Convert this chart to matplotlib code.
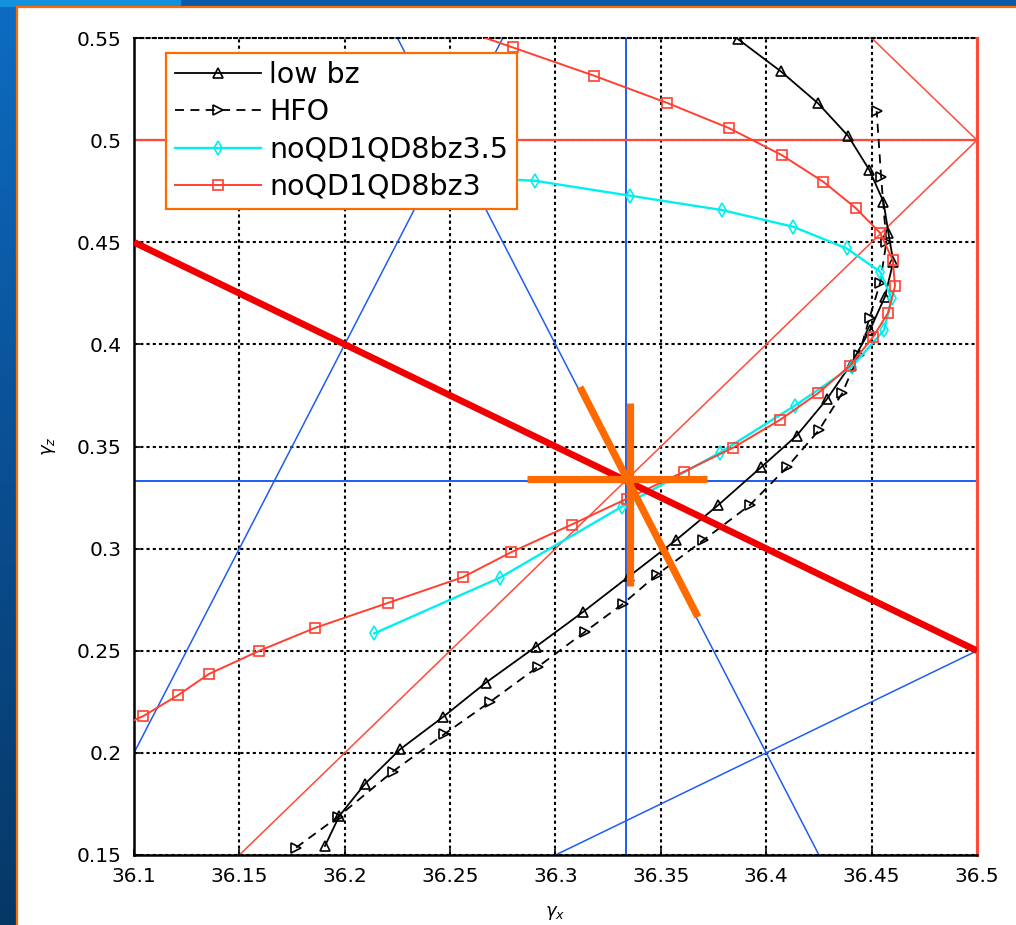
import numpy as np
import matplotlib
matplotlib.use("Agg")
import matplotlib.pyplot as plt
from matplotlib.colors import LinearSegmentedColormap
from matplotlib.patches import Rectangle
from matplotlib.lines import Line2D

plt.rcParams['font.family'] = ['DejaVu Sans']

# Measured trajectories (gamma_x, gamma_z)
low_bz_x = [36.1906, 36.1974, 36.2096, 36.2262, 36.2468, 36.2670, 36.2907, 36.3132,
            36.3350, 36.3572, 36.3773, 36.3975, 36.4144, 36.4287, 36.4400, 36.4492,
            36.4563, 36.4603, 36.4580, 36.4556, 36.4489, 36.4389, 36.4246, 36.4070, 36.3864]
low_bz_y = [0.1544, 0.1691, 0.1848, 0.2017, 0.2177, 0.2344, 0.2520, 0.2691,
            0.2865, 0.3042, 0.3214, 0.3398, 0.3553, 0.3731, 0.3900, 0.4070,
            0.4233, 0.4405, 0.4544, 0.4699, 0.4854, 0.5020, 0.5180, 0.5336, 0.5496]

hfo_x = [36.1769, 36.1968, 36.2227, 36.2470, 36.2690, 36.2915, 36.3140, 36.3320,
         36.3480, 36.3700, 36.3923, 36.4100, 36.4250, 36.4360, 36.4440, 36.4490,
         36.4540, 36.4570, 36.4545, 36.4524]
hfo_y = [0.1536, 0.1687, 0.1908, 0.2090, 0.2250, 0.2420, 0.2593, 0.2730,
         0.2871, 0.3040, 0.3214, 0.3400, 0.3580, 0.3760, 0.3950, 0.4130,
         0.4300, 0.4500, 0.4820, 0.5142]

bz35_x = [36.2140, 36.2737, 36.3314, 36.3780, 36.4136, 36.4405, 36.4559, 36.4595,
          36.4540, 36.4381, 36.4128, 36.3788, 36.3353, 36.2903, 36.2450]
bz35_y = [0.2585, 0.2858, 0.3205, 0.3470, 0.3700, 0.3890, 0.4070, 0.4225,
          0.4356, 0.4470, 0.4576, 0.4658, 0.4728, 0.4801, 0.4825]

bz3_x = [36.0880, 36.1044, 36.1210, 36.1355, 36.1595, 36.1859, 36.2207, 36.2560,
         36.2789, 36.3077, 36.3340, 36.3610, 36.3844, 36.4065, 36.4247, 36.4397,
         36.4505, 36.4579, 36.4611, 36.4600, 36.4540, 36.4424, 36.4271, 36.4073,
         36.3825, 36.3528, 36.3184, 36.2797, 36.2430]
bz3_y = [0.2105, 0.2180, 0.2283, 0.2386, 0.2500, 0.2612, 0.2735, 0.2860,
         0.2982, 0.3118, 0.3245, 0.3377, 0.3495, 0.3630, 0.3762, 0.3896,
         0.4034, 0.4155, 0.4286, 0.4413, 0.4546, 0.4668, 0.4796, 0.4927,
         0.5058, 0.5183, 0.5315, 0.5454, 0.5585]

series_names = ['low bz', 'HFO', 'noQD1QD8bz3.5', 'noQD1QD8bz3']

# Construction lines of the composition diagram
third_x = 36.3333
third_y = 0.3333
blue_a_x, blue_a_y = [36.1, 36.275], [0.2, 0.55]
blue_b_x, blue_b_y = [36.225, 36.425], [0.55, 0.15]
blue_c_x, blue_c_y = [36.3, 36.5], [0.15, 0.25]
red_diag_x, red_diag_y = [36.15, 36.5], [0.15, 0.5]
red_corner_x, red_corner_y = [36.45, 36.5], [0.55, 0.5]
red_top_y = 0.5
red_edge_x = 36.5
thick_red_x, thick_red_y = [36.1, 36.5], [0.45, 0.25]

# Star marking the centre point
star_h_x, star_h_y = [36.2865, 36.3719], [0.3341, 0.3341]
star_v_x, star_v_y = [36.3354, 36.3354], [0.2817, 0.3713]
star_d_x, star_d_y = [36.3116, 36.3676], [0.3791, 0.2665]

x_ticks = [36.1, 36.15, 36.2, 36.25, 36.3, 36.35, 36.4, 36.45, 36.5]
x_labels = ['36.1', '36.15', '36.2', '36.25', '36.3', '36.35', '36.4', '36.45', '36.5']
y_ticks = [0.15, 0.2, 0.25, 0.3, 0.35, 0.4, 0.45, 0.5, 0.55]
y_labels = ['0.15', '0.2', '0.25', '0.3', '0.35', '0.4', '0.45', '0.5', '0.55']

W, H = 1016, 925
fig = plt.figure(figsize=(W / 100, H / 100), dpi=100)
fig.patch.set_facecolor('white')

# slide frame: blue bars with a thin orange border
side = fig.add_axes([0, 0, 16 / W, 1])
side_cmap = LinearSegmentedColormap.from_list('side', ['#0d6cc2', '#0a4f93', '#063866'])
side.imshow(np.linspace(0, 1, 256).reshape(-1, 1), cmap=side_cmap, aspect='auto')
side.axis('off')
fig.add_artist(Rectangle((0, 1 - 6 / H), 1, 6 / H, transform=fig.transFigure,
                         color='#0a5aa8', zorder=5))
fig.add_artist(Rectangle((0, 1 - 6 / H), 180 / W, 6 / H, transform=fig.transFigure,
                         color='#1590dc', zorder=6))
fig.add_artist(Line2D([16.5 / W, 1], [1 - 6.5 / H, 1 - 6.5 / H], transform=fig.transFigure,
                      color='#ff6a00', lw=1.6, zorder=7))
fig.add_artist(Line2D([16.5 / W, 16.5 / W], [0, 1 - 6.5 / H], transform=fig.transFigure,
                      color='#ff6a00', lw=1.6, zorder=7))

ax = fig.add_axes([134 / W, 70 / H, 843 / W, 817 / H])

thin_blue = '#1f5cf5'
thin_red = '#ff4a3a'

# diagram lines
ax.axvline(third_x, color=thin_blue, lw=1.4, zorder=2)
ax.axhline(third_y, color=thin_blue, lw=1.4, zorder=2)
ax.plot(blue_a_x, blue_a_y, color=thin_blue, lw=1.1, zorder=2)
ax.plot(blue_b_x, blue_b_y, color=thin_blue, lw=1.1, zorder=2)
ax.plot(blue_c_x, blue_c_y, color=thin_blue, lw=1.1, zorder=2)
ax.plot(red_diag_x, red_diag_y, color=thin_red, lw=1.1, zorder=2)
ax.plot(red_corner_x, red_corner_y, color=thin_red, lw=1.1, zorder=2)
ax.axhline(red_top_y, color=thin_red, lw=1.6, zorder=2)
ax.axvline(red_edge_x, color=thin_red, lw=2.2, zorder=2, clip_on=False)

# trajectories
mk = dict(ms=7, mfc='none', mew=1.2)
h1, = ax.plot(low_bz_x, low_bz_y, '-', color='black', marker='^', lw=1.3, zorder=3, **mk)
h2, = ax.plot(hfo_x, hfo_y, '--', color='black', marker='>', lw=1.3, zorder=3,
              dashes=(5, 3.5), **mk)
h3, = ax.plot(bz35_x, bz35_y, '-', color='#00f0f0', marker='d', lw=1.7, zorder=3, **mk)
h4, = ax.plot(bz3_x, bz3_y, '-', color='#ff4030', marker='s', lw=1.4, zorder=3, **mk)

# heavy overlays
ax.plot(thick_red_x, thick_red_y, color='#f00000', lw=4.8, zorder=6, solid_capstyle='butt')
for sx, sy in [(star_h_x, star_h_y), (star_v_x, star_v_y), (star_d_x, star_d_y)]:
    ax.plot(sx, sy, color='#ff6a00', lw=5.2, zorder=7, solid_capstyle='butt')

ax.set_xlim(36.1, 36.5)
ax.set_ylim(0.15, 0.55)
ax.set_xticks(x_ticks)
ax.set_xticklabels(x_labels)
ax.set_yticks(y_ticks)
ax.set_yticklabels(y_labels)
ax.tick_params(direction='in', length=4, width=1.2, labelsize=14.5, pad=9,
               top=False, right=False)
ax.grid(True, color='black', linestyle=(0, (1.5, 1.5)), lw=1.5, zorder=1)
ax.set_axisbelow(True)
for s in ['left', 'bottom']:
    ax.spines[s].set_linewidth(1.8)
ax.spines['top'].set_linestyle((0, (1.5, 1.5)))
ax.spines['top'].set_linewidth(1.5)
ax.spines['right'].set_visible(False)

ax.set_xlabel(r'$\gamma_x$', fontsize=13)
ax.set_ylabel(r'$\gamma_z$', fontsize=13)
ax.xaxis.set_label_coords(0.5, -0.060)
ax.yaxis.set_label_coords(-0.090, 0.5)

leg = ax.legend([h1, h2, h3, h4], series_names, loc='upper left',
                bbox_to_anchor=(0.038, 0.982), fontsize=20.5, frameon=True,
                fancybox=False, handlelength=3.05, handletextpad=0.28,
                labelspacing=0.32, borderpad=0.3, borderaxespad=0)
leg.get_frame().set_edgecolor('#ff6a00')
leg.get_frame().set_linewidth(1.6)
leg.get_frame().set_alpha(1)
leg.set_zorder(10)

fig.savefig('out.png', dpi=100)
